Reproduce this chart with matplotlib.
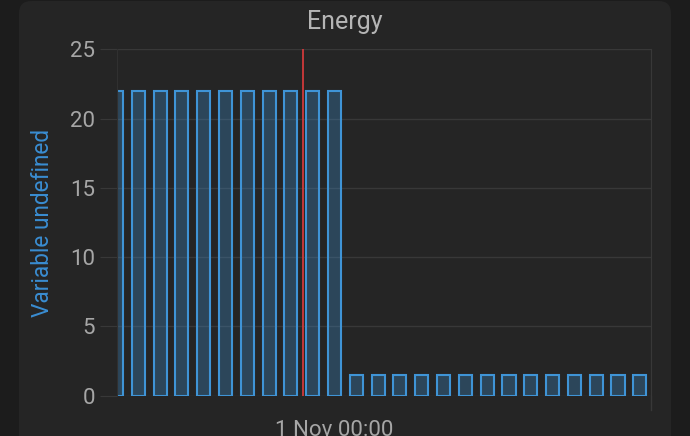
import matplotlib.pyplot as plt
import matplotlib.dates as mdates
from matplotlib.patches import FancyBboxPatch
import pandas as pd

# hourly energy, starting 31 Oct 14:00
start = "2023-10-31 14:00"
energy = [22, 22, 22, 22, 22, 22, 22, 22, 22, 22, 22,
          1.5, 1.5, 1.5, 1.5, 1.5, 1.5, 1.5, 1.5, 1.5, 1.5, 1.5, 1.5, 1.5, 1.5]
now = "2023-10-31 22:32"
xtick = "2023-11-01 00:00"
yticks = [0, 5, 10, 15, 20, 25]

BG = "#1c1c1c"
CARD = "#252525"
GRID = "#383838"
TXT = "#a6a6a6"
BLUE = "#3f94d6"

plt.rcParams['font.family'] = ['Roboto', 'DejaVu Sans']

times = pd.date_range(start, periods=len(energy), freq="h")
x = mdates.date2num(times)

fig = plt.figure(figsize=(6.9, 4.36), dpi=100, facecolor=BG)

# card behind the chart
W, H = 690, 436
card = FancyBboxPatch((19 / W, -0.1), (671 - 19) / W, 1.1 - 1 / H,
                      boxstyle="round,pad=0,rounding_size=0.018",
                      transform=fig.transFigure, facecolor=CARD, edgecolor="none",
                      mutation_aspect=W / H, zorder=-5)
fig.patches.append(card)

ax = fig.add_axes([116.5 / W, 1 - 395.5 / H, (650.7 - 116.5) / W, (395.5 - 49.3) / H])
ax.set_facecolor("none")
ax.set_zorder(1)

ax.bar(x, energy, width=0.6 / 24, facecolor=(63 / 255, 148 / 255, 214 / 255, 0.3),
       edgecolor=BLUE, linewidth=1.5, zorder=2)
ax.axvline(mdates.date2num(pd.Timestamp(now)), color="#d0393b", linewidth=1.3, zorder=3)

ax.set_xlim(x[0], x[0] + 24.5 / 24)
ax.set_ylim(0, 25)
ax.set_yticks(yticks)
ax.yaxis.grid(True, color=GRID, linewidth=1, zorder=0)
ax.set_axisbelow(True)

xt = pd.Timestamp(xtick)
ax.set_xticks([mdates.date2num(xt)])
ax.set_xticklabels([f"{xt.day} {xt:%b %H:%M}"])

ax.tick_params(axis="y", colors=GRID, labelcolor=TXT, labelsize=16, length=11.9,
               width=0.8, pad=3.6)
ax.tick_params(axis="x", colors=GRID, labelcolor=TXT, labelsize=16, length=0, pad=17.5)

for side in ["top", "bottom"]:
    ax.spines[side].set_visible(False)
ax.spines["left"].set_color("#303030")
ax.spines["right"].set_color(GRID)
ax.plot([1, 1], [0, -0.043], transform=ax.transAxes, color=GRID, linewidth=1,
        clip_on=False)

fig.text(345 / W, 1 - 22 / H, "Energy", ha="center", va="center", fontsize=18, color="#b5b5b5")
fig.text(42.7 / W, 1 - 222.5 / H, "Variable undefined", rotation=90, ha="center",
         va="center", fontsize=16.3, color="#3a8dd2")

plt.savefig("out.png", dpi=100, facecolor=BG)
